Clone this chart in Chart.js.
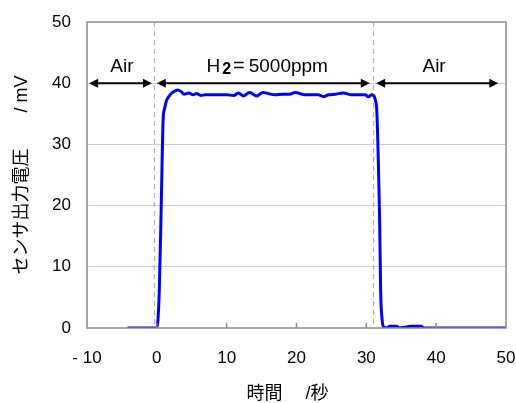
<!DOCTYPE html>
<html>
<head>
<meta charset="utf-8">
<script src="https://cdn.jsdelivr.net/npm/chart.js@4.4.1/dist/chart.umd.min.js"></script>
<style>
  body { margin: 0; background: #fff; }
  #wrap { width: 516px; height: 403px; }
</style>
</head>
<body>
<div id="wrap"><canvas id="sensorChart" width="516" height="403"></canvas></div>
<script>
// 時間 (秒)
const timeSec = [-4.2, 0.0, 0.35, 0.65, 0.9, 1.1, 1.4, 1.9, 2.4, 3.0, 3.5, 3.9, 4.6, 5.2, 5.7, 6.3, 7.0, 8.0, 9.0, 10.0,
  11.0, 11.7, 12.4, 13.3, 14.3, 15.2, 16.0, 16.9, 18.0, 19.0, 19.8, 21.2, 22.3, 23.1, 23.9, 24.6, 25.6, 26.7, 27.9, 29.0,
  29.8, 30.3, 30.8, 31.1, 31.3, 31.5, 31.7, 31.9, 32.05, 32.25, 32.45, 33.0, 33.3, 34.4, 34.7, 35.9, 36.5, 37.9, 38.2, 50];
// センサ出力電圧 (mV)
const voltageMv = [0, 0, 6, 21, 34, 35.8, 37.2, 38.1, 38.6, 38.9, 38.6, 38.2, 38.4, 38.1, 38.3, 38.0, 38.1, 38.1, 38.1, 38.1,
  38.0, 38.4, 37.9, 38.5, 37.9, 38.5, 38.3, 38.1, 38.2, 38.2, 38.5, 38.1, 38.1, 38.1, 37.8, 38.1, 38.2, 38.4, 38.1, 38.1,
  38.1, 37.8, 38.1, 37.9, 37.2, 35.5, 28, 18, 6, 1.5, 0.2, 0, 0.3, 0.3, 0, 0.2, 0.3, 0.3, 0, 0];

// ガス切替タイミング
const switchTimes = [-0.4, 30.9];
// 矢印区間 [開始, 終了, ラベル中心]
const arrowSpans = [[-9.7, -0.7, -5.0], [0.0, 30.5, 15.8], [31.4, 48.9, 39.7]];
const arrowLabels = ['Air', 'H2', 'Air'];
const arrowLevel = 40;

const xTicks = [-10, 0, 10, 20, 30, 40, 50];
const yTicks = [0, 10, 20, 30, 40, 50];

const FONT = "'Liberation Sans', Arial, 'Noto Sans CJK JP', sans-serif";

const points = timeSec.map((t, i) => ({ x: t, y: voltageMv[i] }));

function drawArrowHead(ctx, x, y, dir) {
  ctx.beginPath();
  ctx.moveTo(x, y);
  ctx.lineTo(x - dir * 9, y - 4.5);
  ctx.lineTo(x - dir * 9, y + 4.5);
  ctx.closePath();
  ctx.fill();
}

const extras = {
  id: 'extras',
  beforeDatasetsDraw(chart) {
    const { ctx, chartArea, scales } = chart;
    ctx.save();
    ctx.strokeStyle = '#b4b4b4';
    ctx.lineWidth = 1.2;
    ctx.setLineDash([5, 4]);
    switchTimes.forEach(t => {
      const px = Math.round(scales.x.getPixelForValue(t)) + 0.5;
      ctx.beginPath();
      ctx.moveTo(px, chartArea.top);
      ctx.lineTo(px, chartArea.bottom);
      ctx.stroke();
    });
    ctx.restore();
  },
  afterDraw(chart) {
    const { ctx, chartArea, scales } = chart;
    ctx.save();
    // 枠
    ctx.strokeStyle = '#8a8a8a';
    ctx.lineWidth = 1.5;
    ctx.strokeRect(chartArea.left, chartArea.top, chartArea.right - chartArea.left, chartArea.bottom - chartArea.top);
    // x軸の内向き目盛
    xTicks.slice(1, -1).forEach(v => {
      const px = scales.x.getPixelForValue(v);
      ctx.beginPath();
      ctx.moveTo(px, chartArea.bottom);
      ctx.lineTo(px, chartArea.bottom - 5);
      ctx.stroke();
    });
    // 矢印
    const py = scales.y.getPixelForValue(arrowLevel);
    ctx.strokeStyle = '#000';
    ctx.fillStyle = '#000';
    ctx.lineWidth = 2;
    arrowSpans.forEach((span, i) => {
      const x1 = scales.x.getPixelForValue(span[0]);
      const x2 = scales.x.getPixelForValue(span[1]);
      ctx.beginPath();
      ctx.moveTo(x1 + 4, py);
      ctx.lineTo(x2 - 4, py);
      ctx.stroke();
      drawArrowHead(ctx, x1, py, -1);
      drawArrowHead(ctx, x2, py, 1);

      const cx = scales.x.getPixelForValue(span[2]);
      const base = py - 11;
      ctx.textBaseline = 'alphabetic';
      if (arrowLabels[i] === 'H2') {
        const parts = [
          { t: 'H', f: '19px ' + FONT, dy: 0, gap: 2 },
          { t: '2', f: 'bold 16px ' + FONT, dy: 1.5, gap: 2 },
          { t: '=', f: '20px ' + FONT, dy: 0, gap: 4 },
          { t: '5000ppm', f: '19px ' + FONT, dy: 0, gap: 0 }
        ];
        let total = 0;
        parts.forEach(p => { ctx.font = p.f; p.w = ctx.measureText(p.t).width; total += p.w + p.gap; });
        let x = cx - total / 2;
        ctx.textAlign = 'left';
        parts.forEach(p => {
          ctx.font = p.f;
          ctx.fillText(p.t, x, base + p.dy);
          x += p.w + p.gap;
        });
      } else {
        ctx.font = '19px ' + FONT;
        ctx.textAlign = 'center';
        ctx.fillText(arrowLabels[i], cx, base);
      }
    });
    ctx.restore();
  }
};

new Chart(document.getElementById('sensorChart'), {
  type: 'line',
  data: {
    datasets: [{
      data: points,
      borderColor: '#0000ff',
      borderWidth: 3,
      pointRadius: 0,
      cubicInterpolationMode: 'monotone',
      fill: false
    }]
  },
  options: {
    responsive: false,
    animation: false,
    layout: { padding: { left: 0, right: 10, top: 22, bottom: 0 } },
    plugins: {
      legend: { display: false },
      tooltip: { enabled: false }
    },
    scales: {
      x: {
        type: 'linear',
        min: xTicks[0],
        max: xTicks[xTicks.length - 1],
        afterFit: scale => {
          scale.height = 75;
          scale.paddingLeft = 0;
          scale.paddingRight = 0;
        },
        afterBuildTicks: scale => { scale.ticks = xTicks.map(v => ({ value: v })); },
        grid: { display: false, drawTicks: false },
        border: { display: false },
        ticks: {
          padding: 20,
          color: '#000',
          font: { family: FONT, size: 17 },
          maxRotation: 0,
          callback: v => (v < 0 ? '- ' + Math.abs(v) : String(v))
        },
        title: {
          display: true,
          text: '時間　 /秒　',
          color: '#000',
          font: { family: FONT, size: 18 },
          padding: { top: 0, bottom: -2 }
        }
      },
      y: {
        min: yTicks[0],
        max: yTicks[yTicks.length - 1],
        afterFit: scale => {
          scale.width = 87;
          scale.paddingTop = 0;
          scale.paddingBottom = 0;
        },
        afterBuildTicks: scale => { scale.ticks = yTicks.map(v => ({ value: v })); },
        grid: {
          drawTicks: false,
          color: ctx => (ctx.tick && (ctx.tick.value === 0 || ctx.tick.value === 50)) ? 'rgba(0,0,0,0)' : '#c8c8f0',
          lineWidth: 1
        },
        border: { display: false },
        ticks: {
          padding: 16,
          color: '#000',
          font: { family: FONT, size: 17 }
        },
        title: {
          display: true,
          text: 'センサ出力電圧　　/ mV',
          color: '#000',
          font: { family: FONT, size: 18 },
          padding: { top: 11, bottom: 0 }
        }
      }
    }
  },
  plugins: [extras]
});
</script>
</body>
</html>
